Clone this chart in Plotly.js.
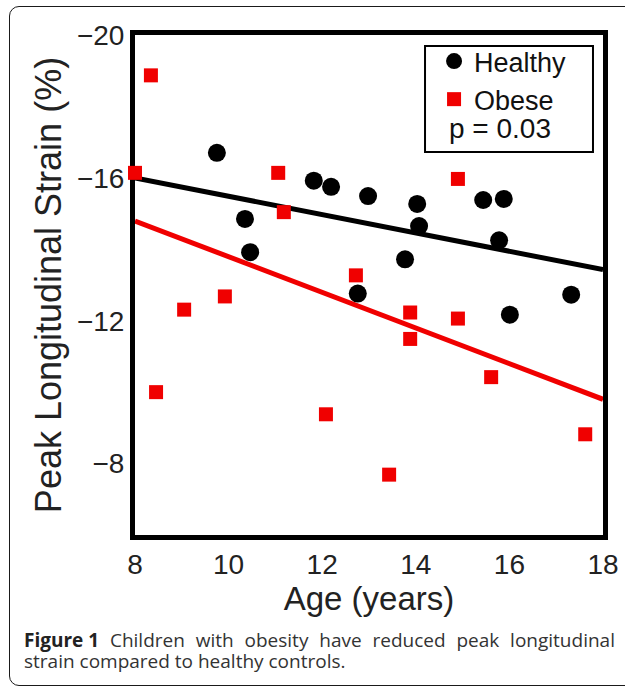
<!DOCTYPE html>
<html><head><meta charset="utf-8">
<script src="https://cdn.plot.ly/plotly-3.0.1.min.js"></script>
<style>
html,body{margin:0;padding:0;width:625px;height:687px;overflow:hidden;background:#fff;}
#frame{position:absolute;left:9px;top:6px;width:720px;height:680px;border:1.5px solid #1a1a1a;border-radius:10px;box-sizing:border-box;}
#chart{position:absolute;left:0;top:0;width:625px;height:687px;}
.cap{position:absolute;font-family:'Open Sans',sans-serif;font-size:19px;line-height:21px;color:#333;white-space:nowrap;}
#l1{left:24px;top:630px;width:591px;display:flex;justify-content:space-between;}
#l1 b{color:#222;}
#l2{left:24px;top:651px;}
</style></head>
<body>
<div id="frame"></div>
<div id="chart"></div>
<div class="cap" id="l1"><b>Figure 1</b><span>Children</span><span>with</span><span>obesity</span><span>have</span><span>reduced</span><span>peak</span><span>longitudinal</span></div>
<div class="cap" id="l2">strain compared to healthy controls.</div>
<script>
const healthyAge = [9.75, 10.35, 10.46, 11.82, 12.19, 12.98, 12.76, 13.77, 14.03, 14.07, 15.44, 15.88, 15.78, 16.01, 17.32];
const healthyStrain = [-16.70, -14.85, -13.92, -15.92, -15.75, -15.49, -12.76, -13.72, -15.27, -14.65, -15.38, -15.41, -14.25, -12.17, -12.73];
const obeseAge = [8.0, 8.34, 8.45, 9.05, 9.92, 11.06, 11.18, 12.08, 12.72, 13.43, 13.88, 13.88, 14.90, 14.90, 15.61, 17.62];
const obeseStrain = [-16.14, -18.87, -10.00, -12.31, -12.68, -16.14, -15.04, -9.38, -13.27, -7.69, -12.23, -11.49, -12.06, -15.97, -10.42, -8.82];
const fitAge = [8, 18];
const fitHealthy = [-16.00, -13.43];
const fitObese = [-14.79, -9.80];
const xTicks = [8, 10, 12, 14, 16, 18];
const yTicks = [-20, -16, -12, -8];
const pText = 'p = 0.03';

const FONT = 'Liberation Sans, Arial, Helvetica, sans-serif';

const traces = [
  {x: fitAge, y: fitHealthy, mode: 'lines', line: {color: '#000', width: 5}, showlegend: false, hoverinfo: 'skip'},
  {x: fitAge, y: fitObese, mode: 'lines', line: {color: '#f00000', width: 5}, showlegend: false, hoverinfo: 'skip'},
  {x: healthyAge, y: healthyStrain, mode: 'markers', name: 'Healthy', cliponaxis: false,
   marker: {symbol: 'circle', size: 18, color: '#000'}},
  {x: obeseAge, y: obeseStrain, mode: 'markers', name: 'Obese', cliponaxis: false,
   marker: {symbol: 'square', size: 14, color: '#f00000'}}
];

const layout = {
  width: 625, height: 687,
  margin: {l: 135, r: 22, t: 35, b: 152, pad: 0},
  paper_bgcolor: 'rgba(0,0,0,0)', plot_bgcolor: '#fff',
  font: {family: FONT, color: '#222'},
  xaxis: {
    range: [8, 18], tickvals: xTicks, ticktext: xTicks.map(String), ticks: '',
    showline: true, mirror: true, linewidth: 5, linecolor: '#000', layer: 'below traces',
    showgrid: false, zeroline: false, tickfont: {size: 28, color: '#222'},
    title: {text: 'Age (years)', font: {size: 33, color: '#222'}, standoff: 6}
  },
  yaxis: {
    range: [-6, -20], tickvals: yTicks, ticktext: yTicks.map(v => '\u2212' + Math.abs(v)), ticks: '',
    showline: true, mirror: true, linewidth: 5, linecolor: '#000', layer: 'below traces',
    showgrid: false, zeroline: false, tickfont: {size: 28, color: '#222'},
    title: {text: 'Peak Longitudinal Strain (%)', font: {size: 36, color: '#222'}, standoff: 6}
  },
  showlegend: true,
  legend: {x: 0.639, y: 0.996, xanchor: 'left', yanchor: 'top', bgcolor: 'rgba(0,0,0,0)',
           borderwidth: 0, font: {size: 27, color: '#111'}, itemsizing: 'trace', tracegroupgap: 0},
  shapes: [
    {type: 'rect', xref: 'paper', yref: 'paper', x0: 0.6197, x1: 0.9786, y0: 0.766, y1: 0.978,
     line: {color: '#000', width: 2}, fillcolor: 'rgba(0,0,0,0)'}
  ],
  annotations: [
    {xref: 'paper', yref: 'paper', x: 0.667, y: 0.812, xanchor: 'left', yanchor: 'middle',
     text: pText, showarrow: false, font: {size: 28, color: '#111'}}
  ]
};

Plotly.newPlot('chart', traces, layout, {staticPlot: true, displayModeBar: false});
</script>
</body></html>
